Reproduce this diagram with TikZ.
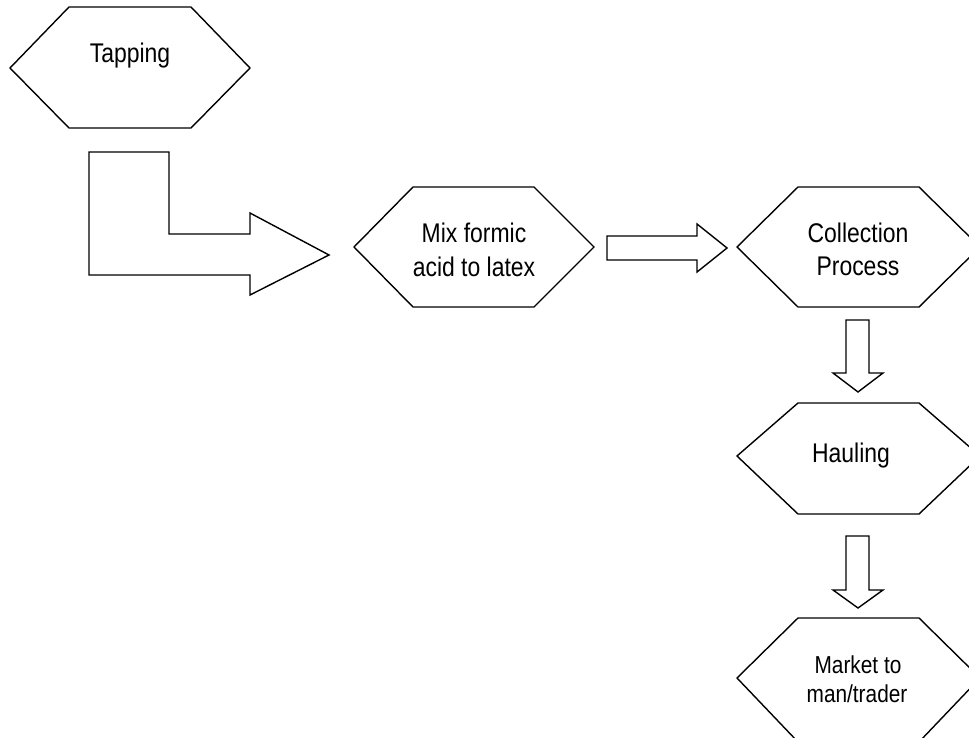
\documentclass[tikz,border=0pt]{standalone}
\usepackage{fontspec}
\setmainfont{Liberation Sans}[FakeStretch=0.85]
\begin{document}
\begin{tikzpicture}[x=1pt,y=-1pt,
  outline/.style={draw=black,line width=1.4pt,line join=miter,fill=white},
  label/.style={anchor=base,inner sep=0pt,font=\fontsize{27}{32}\selectfont},
  smalllabel/.style={anchor=base,inner sep=0pt,font=\fontsize{24.5}{29}\selectfont}]
\useasboundingbox (0,0) rectangle (969,738);
\clip (0,0) rectangle (969,738);

% process steps (hexagons)
\draw[outline] (10,68) -- (69,7) -- (191,7) -- (250,68) -- (191,128) -- (69,128) -- cycle;
\draw[outline] (354,247) -- (413,187) -- (534,187) -- (594,247) -- (534,307) -- (413,307) -- cycle;
\draw[outline] (737,247) -- (798,187) -- (919,187) -- (980,247) -- (919,307) -- (798,307) -- cycle;
\draw[outline] (737,456) -- (798,403) -- (919,403) -- (980,456) -- (919,514) -- (798,514) -- cycle;
\draw[outline] (737,678) -- (798,618) -- (919,618) -- (980,678) -- (919,742) -- (798,742) -- cycle;

% step labels
\node[label] (tap) at (130,62.5) {Tapping};
\node[label] (mixA) at (474,242) {Mix formic};
\node[label] (mixB) at (474,276) {acid to latex};
\node[label] (colA) at (858,242) {Collection};
\node[label] (colB) at (858,275) {Process};
\node[label] (haul) at (851,462) {Hauling};
\node[smalllabel] (mktA) at (858,673) {Market to};
\node[smalllabel] (mktB) at (857,702) {man/trader};

% block arrows between the steps
\draw[outline] (89,152) -- (169,152) -- (169,234) -- (250,234) -- (250,213) -- (329,255)
  -- (250,295) -- (250,275) -- (89,275) -- cycle;
\draw[outline] (607,236) -- (697,236) -- (697,224) -- (727,248) -- (697,272) -- (697,260)
  -- (607,260) -- cycle;
\draw[outline] (846,320) -- (869,320) -- (869,373) -- (883,373) -- (858,392) -- (833,373)
  -- (846,373) -- cycle;
\draw[outline] (846,536) -- (869,536) -- (869,590) -- (883,590) -- (858,608) -- (833,590)
  -- (846,590) -- cycle;
\end{tikzpicture}
\end{document}
